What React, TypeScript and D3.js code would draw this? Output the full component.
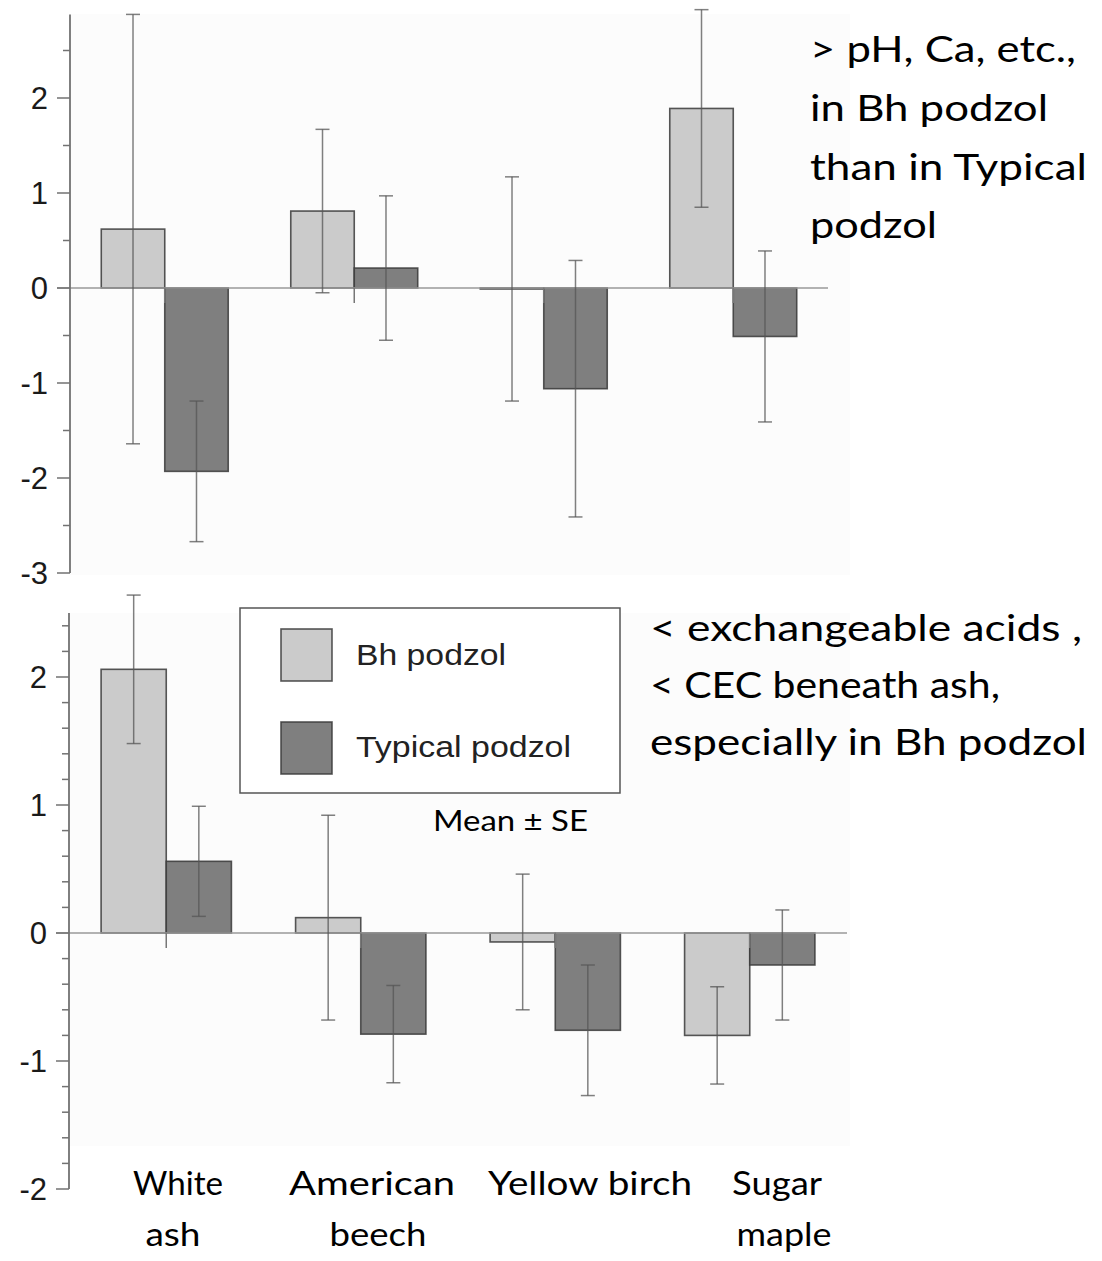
import React from 'react';
import * as d3 from 'd3';

// ---------- data ----------
const species = ['White ash', 'American beech', 'Yellow birch', 'Sugar maple'];
const seriesNames = ['Bh podzol', 'Typical podzol'];

// Top panel (> pH, Ca, etc.) : mean and SE
const topBhMean = [0.62, 0.81, -0.01, 1.89];
const topBhSE = [2.26, 0.86, 1.18, 1.04];
const topTypMean = [-1.93, 0.21, -1.06, -0.51];
const topTypSE = [0.74, 0.76, 1.35, 0.9];

// Bottom panel (< exchangeable acids, CEC) : mean and SE
const botBhMean = [2.06, 0.12, -0.07, -0.8];
const botBhSE = [0.58, 0.8, 0.53, 0.38];
const botTypMean = [0.56, -0.79, -0.76, -0.25];
const botTypSE = [0.43, 0.38, 0.51, 0.43];

const topTicks = [-3, -2, -1, 0, 1, 2];
const botTicks = [-2, -1, 0, 1, 2];

const topNote = ['> pH, Ca, etc.,', 'in Bh podzol', 'than in Typical', 'podzol'];
const botNote = ['< exchangeable acids ,', '< CEC beneath ash,', 'especially in Bh podzol'];
const categoryLines = [['White', 'ash'], ['American', 'beech'], ['Yellow birch'], ['Sugar', 'maple']];

// ---------- styles / layout ----------
const FILLS = ['#cbcbcb', '#7f7f7f'];
const AXIS = '#727272';
const CAL = "Lato, 'Open Sans', sans-serif";
const ARIAL = "'Liberation Sans', Arial, sans-serif";

// text widths (the original image is slightly stretched horizontally)
const topNoteW = [266, 238, 277, 127];
const botNoteW = [432, 350, 437];
const catW = [[90, 55], [166, 97], [204], [90, 95]];
const catX = [[178, 173], [372, 378], [590], [777, 784]];

type PanelProps = {
  xRange: [number, number];
  yDomain: [number, number];
  yRange: [number, number];
  ticks: number[];
  minorStep: number;
  bhMean: number[];
  bhSE: number[];
  typMean: number[];
  typSE: number[];
  bg: [number, number, number, number];
};

function Panel(p: PanelProps) {
  const x = d3.scaleBand<string>().domain(species).range(p.xRange).paddingInner(0.33).paddingOuter(0.165);
  const xs = d3.scaleBand<string>().domain(seriesNames).range([0, x.bandwidth()]);
  const y = d3.scaleLinear().domain(p.yDomain).range(p.yRange);
  const ax = p.xRange[0];
  const y0 = y(0);
  const n = Math.round((p.yDomain[1] - p.yDomain[0]) / p.minorStep);
  const minors = d3
    .range(0, n + 1)
    .map((i) => +(p.yDomain[0] + i * p.minorStep).toFixed(4))
    .filter((v) => v <= p.yDomain[1] && Math.abs(v - Math.round(v)) > 1e-6);
  const series = [
    { name: seriesNames[0], mean: p.bhMean, se: p.bhSE, fill: FILLS[0] },
    { name: seriesNames[1], mean: p.typMean, se: p.typSE, fill: FILLS[1] },
  ];
  const capHalf = 7;
  return (
    <g>
      <rect x={p.bg[0]} y={p.bg[1]} width={p.bg[2]} height={p.bg[3]} fill="#fcfcfc" />
      {/* bars */}
      {series.map((s) =>
        species.map((sp, i) => {
          const v = s.mean[i];
          const bx = (x(sp) as number) + (xs(s.name) as number);
          return (
            <rect
              key={s.name + sp}
              x={bx}
              y={Math.min(y(v), y0)}
              width={xs.bandwidth()}
              height={Math.max(Math.abs(y(v) - y0), 1)}
              fill={s.fill}
              stroke="#3a3a3a"
              strokeOpacity={0.85}
              strokeWidth={1.6}
            />
          );
        })
      )}
      {/* zero line */}
      <line x1={ax - 13} x2={p.xRange[1]} y1={y0} y2={y0} stroke="#9a9a9a" strokeWidth={1.6} />
      {/* category ticks */}
      {species.map((sp) => {
        const cx = (x(sp) as number) + x.bandwidth() / 2;
        return <line key={'xt' + sp} x1={cx} x2={cx} y1={y0} y2={y0 + 15} stroke="#777" strokeWidth={1.5} />;
      })}
      {/* error bars */}
      {series.map((s) =>
        species.map((sp, i) => {
          const cx = (x(sp) as number) + (xs(s.name) as number) + xs.bandwidth() / 2;
          const hi = y(s.mean[i] + s.se[i]);
          const lo = y(s.mean[i] - s.se[i]);
          return (
            <g key={'e' + s.name + sp} stroke="#555" strokeOpacity={0.75} strokeWidth={1.5}>
              <line x1={cx} x2={cx} y1={hi} y2={lo} />
              <line x1={cx - capHalf} x2={cx + capHalf} y1={hi} y2={hi} />
              <line x1={cx - capHalf} x2={cx + capHalf} y1={lo} y2={lo} />
            </g>
          );
        })
      )}
      {/* y axis */}
      <line x1={ax} x2={ax} y1={y(p.yDomain[0])} y2={y(p.yDomain[1])} stroke={AXIS} strokeWidth={1.8} />
      {minors.map((v) => (
        <line key={'mn' + v} x1={ax - 7} x2={ax} y1={y(v)} y2={y(v)} stroke={AXIS} strokeWidth={1.5} />
      ))}
      {p.ticks.map((v) => (
        <g key={'mj' + v}>
          <line x1={ax - 13} x2={ax} y1={y(v)} y2={y(v)} stroke={AXIS} strokeWidth={1.5} />
          <text
            x={ax - 22}
            y={y(v)}
            dy="0.36em"
            textAnchor="end"
            fontFamily={ARIAL}
            fontSize={31}
            fill="#1a1a1a"
          >
            {v < 0 ? '-' + Math.abs(v) : String(v)}
          </text>
        </g>
      ))}
    </g>
  );
}

function Note({ x, y, w, size, anchor, children }: any) {
  return (
    <text
      x={x}
      y={y}
      fontFamily={CAL}
      fontSize={size}
      fill="#000"
      textAnchor={anchor || 'start'}
      textLength={w}
      lengthAdjust="spacingAndGlyphs"
    >
      {children}
    </text>
  );
}

export default function App() {
  const W = 1102;
  const H = 1261;
  return (
    <svg width={W} height={H} style={{ position: 'absolute', left: 0, top: 0, display: 'block' }}>
      <rect width={W} height={H} fill="#fff" />
      <Panel
        xRange={[70, 828]}
        yDomain={[-3, 2.88]}
        yRange={[573, 14.4]}
        ticks={topTicks}
        minorStep={0.5}
        bhMean={topBhMean}
        bhSE={topBhSE}
        typMean={topTypMean}
        typSE={topTypSE}
        bg={[70, 14, 780, 561]}
      />
      <Panel
        xRange={[69, 847]}
        yDomain={[-2, 2.5]}
        yRange={[1189, 613]}
        ticks={botTicks}
        minorStep={0.2}
        bhMean={botBhMean}
        bhSE={botBhSE}
        typMean={botTypMean}
        typSE={botTypSE}
        bg={[69, 613, 781, 533]}
      />

      {/* legend */}
      <g>
        <rect x={240} y={608} width={380} height={185} fill="#fff" stroke="#555" strokeWidth={1.5} />
        {seriesNames.map((s, i) => (
          <g key={'lg' + s}>
            <rect
              x={281}
              y={629 + i * 93}
              width={51}
              height={52}
              fill={FILLS[i]}
              stroke="#3a3a3a"
              strokeOpacity={0.85}
              strokeWidth={1.6}
            />
            <text
              x={356}
              y={665 + i * 92}
              fontFamily={ARIAL}
              fontSize={30}
              fill="#222"
              textLength={i === 0 ? 150 : 215}
              lengthAdjust="spacingAndGlyphs"
            >
              {s}
            </text>
          </g>
        ))}
      </g>
      <Note x={433} y={831} w={155} size={28}>
        Mean ± SE
      </Note>

      {/* annotations */}
      {topNote.map((t, i) => (
        <Note key={'tn' + i} x={810} y={62 + i * 58.8} w={topNoteW[i]} size={37}>
          {t}
        </Note>
      ))}
      {botNote.map((t, i) => (
        <Note key={'bn' + i} x={650} y={641 + i * 57} w={botNoteW[i]} size={37}>
          {t}
        </Note>
      ))}

      {/* category labels */}
      {categoryLines.map((lines, i) =>
        lines.map((t, j) => (
          <Note key={'cl' + i + j} x={catX[i][j]} y={1195 + j * 51} w={catW[i][j]} size={32} anchor="middle">
            {t}
          </Note>
        ))
      )}
    </svg>
  );
}
